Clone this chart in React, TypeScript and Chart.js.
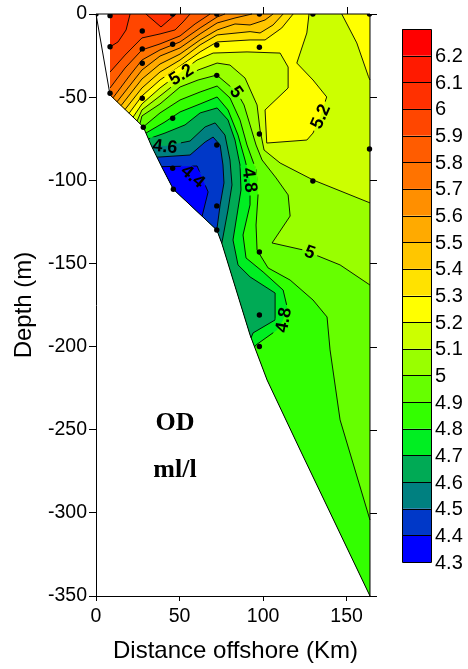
import React, { useEffect, useRef } from 'react';
import { Chart, registerables } from 'chart.js';

Chart.register(...registerables);

type Pt = [number, number];

// ---------- data (km offshore, depth m) ----------
const COLOR_LEVELS = [6.2, 6.1, 6.0, 5.9, 5.8, 5.7, 5.6, 5.5, 5.4, 5.3, 5.2, 5.1, 5.0, 4.9, 4.8, 4.7, 4.6, 4.5, 4.4, 4.3];
const BAND_COLORS = ['#ff0000', '#ff1a00', '#ff3000', '#ff4600', '#ff5c00', '#ff7300', '#ff8f00', '#ffaa00', '#ffc600', '#ffe200', '#ffff00', '#ccff00', '#99ff00', '#66ff00', '#33ff00', '#00ee22', '#00aa55', '#008080', '#0038c8', '#0000ff'];

const STATION_KM = [0, 8.4, 45.9, 72.3, 97.8, 129.8, 163.7, 27.7, 8.4, 27.7, 45.9, 72.3, 97.8, 27.7, 72.3, 8.4, 27.7, 45.9, 28.3, 72.3, 97.8, 45.9, 46.3, 72.3, 72.3, 97.8, 97.8, 129.8, 163.7, 97.8];
const STATION_DEPTH = [0, -1, 0, 0, 0, 0, 0, -10.2, -19.7, -21, -18.2, -18.6, -20, -29.6, -36.9, -47.7, -50.7, -62.7, -68.1, -78.8, -72.2, -92.8, -105.4, -115.4, -129.9, -143.1, -181, -100.4, -81.2, -200];

// bottom profile (blanking outline)
const SECTION_OUTLINE: Pt[] = [[0, 0], [8.4, -48.7], [28.3, -67.9], [33.4, -79.8], [39.3, -91.8], [46.3, -105.4], [72.3, -129.9], [75.3, -137.9], [92.2, -193.0], [102.4, -220.1], [122.2, -262.2], [164, -350]];
const DATA_DOMAIN: Pt[] = [[8.4, 0], [164, 0], [164, -350], [122.2, -262.2], [102.4, -220.1], [92.2, -193.0], [75.3, -137.9], [72.3, -129.9], [46.3, -105.4], [39.3, -91.8], [33.4, -79.8], [28.3, -67.9], [8.4, -48.7]];

// contour lines
const L60A: Pt[] = [[8.4, -19.8], [13.2, -16.8], [18.0, -9.6], [20.4, 0]];
const L60B: Pt[] = [[29.9, 0], [38.9, -7.8], [47.9, 0]];
const L59: Pt[] = [[8.4, -34.9], [17.4, -24.7], [27.5, -14.4], [38.3, -12.0], [47.3, -9.6], [52.1, -4.8], [56.3, 0]];
const L58: Pt[] = [[8.4, -44.5], [17.4, -32.5], [27.5, -21.6], [38.3, -18.0], [50.3, -13.2], [59.3, -6.0], [68.3, 0]];
const L57: Pt[] = [[10.2, -50.4], [20.4, -36.7], [27.5, -27.7], [38.3, -21.6], [50.3, -16.8], [62.3, -8.4], [72.5, -1.8], [77.2, 0]];
const L56: Pt[] = [[12.6, -52.8], [27.5, -33.7], [38.3, -25.3], [50.3, -20.4], [62.3, -12.0], [72.5, -5.4], [83.2, -2.4], [93.4, 0]];
const L55: Pt[] = [[15.0, -55.1], [27.5, -39.1], [38.3, -30.1], [50.3, -24.1], [62.3, -15.6], [72.5, -9.6], [83.2, -6.0], [92.2, -6.6], [101.2, -3.6], [106.0, 0]];
const L54: Pt[] = [[17.4, -57.4], [27.5, -44.5], [38.3, -34.9], [50.3, -27.7], [62.3, -18.6], [72.5, -12.6], [92.2, -10.6], [98.2, -11.4], [106.0, -6.6], [112.0, 0]];
const L53: Pt[] = [[19.8, -59.7], [27.5, -49.3], [38.3, -39.7], [50.3, -31.3], [62.3, -22.8], [72.5, -16.8], [92.2, -15.6], [101.2, -15.6], [111.2, -8.4], [118.0, 0]];
const L52: Pt[] = [[22.2, -62.0], [27.5, -54.1], [38.3, -44.5], [50.9, -34.9], [60.5, -27.7], [70.1, -23.5], [90.4, -22.8], [110.2, -23.5], [115.0, -31.9], [115.0, -44.5], [101.2, -57.7], [102.2, -77.6], [126.2, -75.8], [129.9, -71.6], [134.1, -61.9], [138.1, -49.9], [129.9, -39.7], [120.2, -29.5], [126.2, -11.4], [127.5, 0]];
const L52B: Pt[] = [[147.1, 0], [156.1, -17.4], [163.1, -37.7], [164, -39.7]];
const L51: Pt[] = [[24.6, -64.3], [27.5, -57.7], [38.3, -49.3], [50.3, -39.7], [61.1, -33.7], [72.5, -29.5], [80.2, -30.7], [89.2, -38.5], [96.4, -54.7], [98.2, -69.8], [100.6, -81.8], [110.2, -89.6], [129.9, -99.8], [164, -113.6]];
const L50: Pt[] = [[26.3, -66.0], [27.5, -61.3], [38.3, -54.1], [50.3, -43.9], [61.1, -39.7], [72.3, -36.7], [84.3, -46.9], [88.6, -54.7], [92.2, -66.7], [95.8, -78.8], [99.4, -87.8], [107.8, -98.6], [115.0, -108.8], [116.2, -121.5], [105.4, -137.7], [124.0, -141.9], [146.1, -150.9], [164, -163.0]];
const L49: Pt[] = [[28.3, -67.9], [38.3, -59.5], [50.3, -51.7], [62.3, -46.9], [72.5, -43.3], [80.2, -50.5], [86.2, -63.7], [90.4, -78.8], [95.8, -93.8], [97.0, -108.8], [95.8, -126.9], [96.4, -141.9], [103.0, -152.7], [116.2, -160.0], [129.9, -172.0], [138.3, -182.2], [140.1, -202.0], [146.1, -244.1], [164, -304.3]];
const L48: Pt[] = [[29.9, -71.6], [41.3, -64.9], [50.3, -58.9], [62.3, -54.1], [72.5, -49.9], [79.0, -57.7], [85.0, -72.8], [89.2, -87.8], [92.2, -99.8], [92.2, -114.8], [88.0, -132.9], [89.8, -146.7], [100.0, -155.1], [112.0, -166.0], [114.4, -176.2], [112.0, -184.0], [108.4, -190.0], [95.8, -199.0], [94.9, -200.2]];
const L47: Pt[] = [[31.4, -75.1], [41.3, -71.6], [53.3, -66.7], [62.3, -59.5], [72.5, -56.5], [79.0, -63.7], [83.2, -75.8], [86.2, -90.8], [86.8, -105.8], [84.4, -120.9], [82.0, -135.9], [85.0, -150.9], [92.2, -158.1], [107.2, -167.8], [107.2, -184.0], [94.0, -191.8], [92.8, -194.8]];
const L46: Pt[] = [[32.9, -78.6], [41.3, -79.4], [56.3, -76.4], [65.3, -67.9], [71.3, -65.5], [77.2, -72.8], [80.2, -87.8], [81.4, -102.8], [79.0, -117.9], [75.3, -137.9]];
const L45: Pt[] = [[36.5, -86.1], [56.3, -84.8], [65.3, -77.0], [70.1, -74.0], [74.3, -78.8], [76.0, -90.8], [76.6, -101.6], [74.3, -114.8], [72.3, -129.9]];
const L44: Pt[] = [[39.3, -91.8], [60.5, -91.4], [67.1, -107.0], [63.5, -121.6]];

// closures along the section boundary
const LEFT_TOP: Pt[] = [[8.4, 0], [8.4, -48.7]];
const SLOPE_UP_FULL: Pt[] = [[164, -350], [122.2, -262.2], [102.4, -220.1], [92.2, -193.0], [75.3, -137.9], [72.3, -129.9], [46.3, -105.4], [39.3, -91.8], [33.4, -79.8], [28.3, -67.9]];
const SLOPE_UP_MID: Pt[] = [[92.2, -193.0], [75.3, -137.9], [72.3, -129.9], [46.3, -105.4], [39.3, -91.8], [33.4, -79.8]];

// filled level regions: [lower bound of band, contour line, closure]
const REGIONS: [number, Pt[], Pt[]][] = [
  [5.1, L51, [[164, 0], ...LEFT_TOP]],
  [5.2, L52, LEFT_TOP],
  [5.2, L52B, [[164, 0]]],
  [5.3, L53, LEFT_TOP],
  [5.4, L54, LEFT_TOP],
  [5.5, L55, LEFT_TOP],
  [5.6, L56, LEFT_TOP],
  [5.7, L57, LEFT_TOP],
  [5.8, L58, [[8.4, 0]]],
  [5.9, L59, [[8.4, 0]]],
  [6.0, L60A, [[8.4, 0]]],
  [6.0, L60B, []],
  [4.9, L50, SLOPE_UP_FULL],
  [4.8, L49, SLOPE_UP_FULL.slice(0, 9)],
  [4.7, L48, SLOPE_UP_MID],
  [4.6, L47, SLOPE_UP_MID],
  [4.5, L46, SLOPE_UP_MID.slice(2)],
  [4.4, L45, [[46.3, -105.4], [39.3, -91.8]]],
  [4.3, L44, [[46.3, -105.4]]],
];
const CONTOUR_LINES: Pt[][] = [L60A, L60B, L59, L58, L57, L56, L55, L54, L53, L52, L52B, L51, L50, L49, L48, L47, L46, L45, L44];

const LABEL_TEXT = ['5.2', '5', '5.2', '4.6', '4.4', '4.8', '4.8', '5'];
const LABEL_KM = [50.9, 84.3, 134.1, 41.3, 58.1, 92.2, 112.0, 128.1];
const LABEL_DEPTH = [-36.3, -46.7, -61.5, -79.4, -97.4, -99.8, -184.0, -143.1];
const LABEL_ANGLE = [-32, 55, -66, 6, 40, 82, -80, 20];

const NOTE_TEXT = ['OD', 'ml/l'];
const NOTE_KM = [47.3, 47.3];
const NOTE_DEPTH = [-245.9, -274.2];

// ---------- styling ----------
const SANS = '"Liberation Sans", Arial, Helvetica, sans-serif';
const SERIF = '"Liberation Serif", "Times New Roman", serif';

const bandColor = (lower: number) => {
  const i = COLOR_LEVELS.findIndex((v) => Math.abs(v - lower) < 1e-6);
  return BAND_COLORS[i];
};

const px = (chart: any, p: Pt): [number, number] => [chart.scales.x.getPixelForValue(p[0]), chart.scales.y.getPixelForValue(p[1])];

const trace = (ctx: CanvasRenderingContext2D, chart: any, pts: Pt[]) => {
  pts.forEach((p, i) => {
    const [a, b] = px(chart, p);
    if (i === 0) ctx.moveTo(a, b);
    else ctx.lineTo(a, b);
  });
};

const sectionPlugin = {
  id: 'section',
  beforeDatasetsDraw(chart: any) {
    const ctx: CanvasRenderingContext2D = chart.ctx;
    ctx.save();
    // base band
    ctx.beginPath();
    trace(ctx, chart, DATA_DOMAIN);
    ctx.closePath();
    ctx.fillStyle = bandColor(5.0);
    ctx.fill();
    for (const [band, line, close] of REGIONS) {
      ctx.beginPath();
      trace(ctx, chart, [...line, ...close]);
      ctx.closePath();
      ctx.fillStyle = bandColor(band);
      ctx.fill();
    }
    // clip out label boxes from contour lines
    ctx.font = `bold 18px ${SANS}`;
    const clip = new Path2D();
    clip.rect(0, 0, chart.width, chart.height);
    LABEL_TEXT.forEach((t, i) => {
      const [cx, cy] = px(chart, [LABEL_KM[i], LABEL_DEPTH[i]]);
      const w = ctx.measureText(t).width + 6;
      const h = 15;
      const a = (LABEL_ANGLE[i] * Math.PI) / 180;
      const c = Math.cos(a), s = Math.sin(a);
      const corners = [[-w / 2, -h / 2], [w / 2, -h / 2], [w / 2, h / 2], [-w / 2, h / 2]];
      corners.forEach(([dx, dy], k) => {
        const X = cx + dx * c - dy * s;
        const Y = cy + dx * s + dy * c;
        if (k === 0) clip.moveTo(X, Y);
        else clip.lineTo(X, Y);
      });
      clip.closePath();
    });
    ctx.save();
    ctx.clip(clip, 'evenodd');
    ctx.strokeStyle = '#000';
    ctx.lineWidth = 0.9;
    ctx.lineJoin = 'round';
    for (const line of CONTOUR_LINES) {
      ctx.beginPath();
      trace(ctx, chart, line);
      ctx.stroke();
    }
    ctx.restore();
    // contour labels
    ctx.fillStyle = '#000';
    ctx.textAlign = 'center';
    ctx.textBaseline = 'middle';
    LABEL_TEXT.forEach((t, i) => {
      const [cx, cy] = px(chart, [LABEL_KM[i], LABEL_DEPTH[i]]);
      ctx.save();
      ctx.translate(cx, cy);
      ctx.rotate((LABEL_ANGLE[i] * Math.PI) / 180);
      ctx.fillText(t, 0, 1);
      ctx.restore();
    });
    // section outline
    ctx.strokeStyle = '#000';
    ctx.lineWidth = 1;
    ctx.beginPath();
    trace(ctx, chart, SECTION_OUTLINE);
    ctx.stroke();
    // top and right frame with ticks
    const xs = chart.scales.x, ys = chart.scales.y;
    const xR = xs.getPixelForValue(164);
    const yT = ys.getPixelForValue(0);
    const yB = ys.getPixelForValue(-350);
    ctx.beginPath();
    ctx.moveTo(xs.getPixelForValue(0), yT);
    ctx.lineTo(xR, yT);
    ctx.moveTo(xR, yT);
    ctx.lineTo(xR, yB);
    [50, 100, 150].forEach((v) => {
      const X = Math.round(xs.getPixelForValue(v)) + 0.5;
      ctx.moveTo(X, yT);
      ctx.lineTo(X, yT - 7);
    });
    [0, -50, -100, -150, -200, -250, -300, -350].forEach((v) => {
      const Y = Math.round(ys.getPixelForValue(v)) + 0.5;
      ctx.moveTo(xR, Y);
      ctx.lineTo(xR + 7, Y);
    });
    ctx.stroke();
    // notes
    ctx.font = `bold 26px ${SERIF}`;
    NOTE_TEXT.forEach((t, i) => {
      const [cx, cy] = px(chart, [NOTE_KM[i], NOTE_DEPTH[i]]);
      ctx.fillText(t, cx, cy);
    });
    ctx.restore();
  },
  afterDraw(chart: any) {
    const ctx: CanvasRenderingContext2D = chart.ctx;
    ctx.save();
    const left = 402, width = 29, top = 29, bottom = 562;
    const bh = (bottom - top) / BAND_COLORS.length;
    BAND_COLORS.forEach((c, i) => {
      ctx.fillStyle = c;
      ctx.fillRect(left, top + i * bh, width, bh);
    });
    ctx.strokeStyle = '#000';
    ctx.lineWidth = 1;
    ctx.beginPath();
    for (let i = 1; i < BAND_COLORS.length; i++) {
      const Y = Math.round(top + i * bh) + 0.5;
      ctx.moveTo(left, Y);
      ctx.lineTo(left + width, Y);
    }
    ctx.rect(left + 0.5, top + 0.5, width, bottom - top);
    ctx.stroke();
    ctx.fillStyle = '#000';
    ctx.font = `20px ${SANS}`;
    ctx.textAlign = 'left';
    ctx.textBaseline = 'middle';
    COLOR_LEVELS.forEach((v, i) => {
      ctx.fillText(String(v === Math.round(v) ? v.toFixed(0) : v), 435, top + (i + 1) * bh + 1);
    });
    ctx.restore();
  },
};

export default function App() {
  const ref = useRef<HTMLCanvasElement>(null);
  useEffect(() => {
    const tickFont = { family: SANS, size: 19.5 };
    const titleFont = { family: SANS, size: 24 };
    const chart = new Chart(ref.current as HTMLCanvasElement, {
      type: 'scatter',
      data: {
        datasets: [
          {
            label: 'stations',
            data: STATION_KM.map((x, i) => ({ x, y: STATION_DEPTH[i] })),
            pointRadius: 2.7,
            pointBackgroundColor: '#000',
            pointBorderWidth: 0,
            borderColor: '#000',
          },
        ],
      },
      options: {
        animation: false,
        responsive: false,
        devicePixelRatio: 1,
        layout: { padding: { left: 0, right: 93, top: 14, bottom: 0 } },
        plugins: { legend: { display: false }, tooltip: { enabled: false } },
        scales: {
          x: {
            type: 'linear',
            min: 0,
            max: 167,
            afterFit: (s: any) => {
              s.height = 73;
            },
            ticks: { stepSize: 50, includeBounds: false, color: '#000', font: tickFont, padding: 4, maxRotation: 0 },
            grid: { drawOnChartArea: false, drawTicks: true, tickLength: 5, color: '#000' },
            border: { display: true, color: '#000', width: 1 },
            title: { display: true, text: 'Distance offshore (Km)', color: '#000', font: titleFont, padding: { top: 0, bottom: 3 } },
          },
          y: {
            type: 'linear',
            min: -350,
            max: 0,
            afterFit: (s: any) => {
              s.width = 96;
            },
            ticks: { stepSize: 50, includeBounds: false, color: '#000', font: tickFont, padding: 2 },
            grid: { drawOnChartArea: false, drawTicks: true, tickLength: 7, color: '#000' },
            border: { display: true, color: '#000', width: 1 },
            title: { display: true, text: 'Depth (m)', color: '#000', font: titleFont, padding: { top: 10, bottom: 0 } },
          },
        },
      },
      plugins: [sectionPlugin],
    } as any);
    return () => chart.destroy();
  }, []);
  return (
    <div style={{ position: 'absolute', left: 0, top: 0, width: 468, height: 669, background: '#fff' }}>
      <canvas ref={ref} width={468} height={669} style={{ width: 468, height: 669, display: 'block' }} />
    </div>
  );
}
